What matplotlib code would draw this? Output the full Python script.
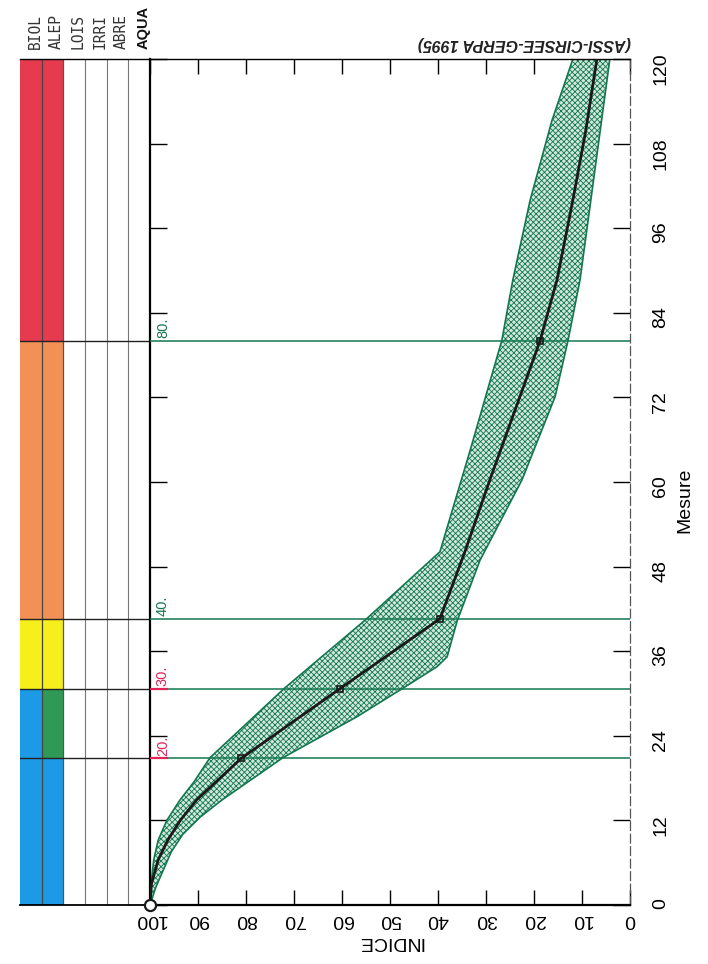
import matplotlib.pyplot as plt
import numpy as np

plt.rcParams['font.family'] = ['Liberation Sans', 'DejaVu Sans']
plt.rcParams['hatch.linewidth'] = 0.6

# reference curve (INDICE vs Mesure)
center_mes = [0, 3, 6.4, 9.2, 12, 14.9, 17.5, 20.8, 30.7, 40.6, 50.1, 60.3, 70.1, 80.0, 88.7, 100, 109.9, 120]
center_idx = [100, 99.7, 98.3, 96.3, 93.7, 90.3, 86.2, 81.0, 60.4, 39.6, 34.4, 29.2, 24.0, 18.75, 15.2, 11.9, 9.2, 6.9]

# envelope
left_mes = [0, 3.5, 6.5, 9.2, 12, 14.9, 17.5, 20.9, 30.8, 40.4, 50.1, 64.5, 80.1, 88.7, 100, 111.3, 120]
left_idx = [100, 99.7, 99.2, 98.3, 96.5, 93.75, 90.8, 87.5, 71.9, 55.2, 39.6, 33.3, 26.7, 24.4, 20.8, 16.25, 11.9]
right_mes = [0, 2.5, 5, 7.5, 10, 12.5, 14.9, 17.5, 20.9, 26.7, 30.5, 33.8, 35.2, 40.3, 48.9, 60.3, 72.1, 80.1, 88.7, 104.3, 120]
right_idx = [100, 98.8, 97.2, 95.6, 93.2, 89.5, 85.0, 79.5, 72.3, 56.9, 47.9, 40.2, 38.1, 36.0, 31.25, 22.5, 15.6, 12.9, 10.4, 7.3, 4.2]

thresholds = [20.8, 30.7, 40.6, 80.0]
threshold_labels = ['20.', '30.', '40.', '80.']
threshold_colors = ['#e0245a', '#e0245a', '#13774f', '#13774f']

zone_bounds = [0, 20.8, 30.7, 40.6, 80.0, 120]
biol_colors = ['#1c9ae6', '#1c9ae6', '#f6ef1c', '#f29055', '#e63a4f']
alep_colors = ['#1c9ae6', '#2f9a55', '#f6ef1c', '#f29055', '#e63a4f']
columns = ['BIOL', 'ALEP', 'LOIS', 'IRRI', 'ABRE', 'AQUA']

indice_ticks = [100, 90, 80, 70, 60, 50, 40, 30, 20, 10, 0]
mesure_ticks = [0, 12, 24, 36, 48, 60, 72, 84, 96, 108, 120]

green = '#13774f'

fig = plt.figure(figsize=(7.08, 9.64), dpi=100)
W, H = 708, 964

# ---- left indicator panel
axl = fig.add_axes([20 / W, 59 / H, 130 / W, 846 / H])
axl.set_xlim(0, 6)
axl.set_ylim(0, 120)
for col, cols in enumerate([biol_colors, alep_colors]):
    for i in range(len(cols)):
        axl.bar(col + 0.5, zone_bounds[i + 1] - zone_bounds[i], bottom=zone_bounds[i],
                width=1, color=cols[i], edgecolor='none')
axl.axvline(1, color='#444', lw=0.9)
axl.axvline(2, color='#555', lw=0.9)
for x in [3, 4, 5]:
    axl.axvline(x, color='#777', lw=0.8)
for t in thresholds:
    axl.axhline(t, color='#222', lw=1.0)
axl.set_xticks([])
axl.set_yticks([])
for s in ['left', 'right']:
    axl.spines[s].set_visible(False)
axl.spines['top'].set_linewidth(1.0)
axl.spines['bottom'].set_linewidth(1.3)
for i, name in enumerate(columns):
    if name == 'AQUA':
        kw = dict(fontfamily='Liberation Sans', fontweight='bold', color='#111')
    else:
        kw = dict(fontfamily='DejaVu Sans Mono', color='#333')
    axl.annotate(name, (i + 0.5, 120), xytext=(3, 7), textcoords='offset points',
                 rotation=90, ha='center', va='bottom', fontsize=10.5, **kw)

# ---- main chart
ax = fig.add_axes([150 / W, 59 / H, 480 / W, 846 / H])
ax.set_xlim(100, 0)
ax.set_ylim(0, 120)

band_x = np.concatenate([left_idx, right_idx[::-1]])
band_y = np.concatenate([left_mes, right_mes[::-1]])
ax.fill(band_x, band_y, facecolor='#d2e8dc', edgecolor=green, hatch='xxxxxx', lw=1.2, zorder=2)

for t, lab, c in zip(thresholds, threshold_labels, threshold_colors):
    ax.axhline(t, color=green, lw=1.1, zorder=3)
    if c != green:
        ax.plot([100, 96.5], [t, t], color=c, lw=1.6, zorder=4)
    ax.text(97.3, t + 0.4, lab, rotation=90, ha='center', va='bottom', color=c, fontsize=10.5)

ax.plot(center_idx, center_mes, color='#1a1a1a', lw=2, zorder=5)
mark_idx = [81.0, 60.4, 39.6, 18.75]
ax.plot(mark_idx, thresholds, 's', mfc='none', mec='#1a1a1a', ms=5, mew=1.2, zorder=6)
ax.plot([100], [0], 'o', mfc='white', mec='#1a1a1a', ms=8, mew=1.6, zorder=6, clip_on=False)

ax.set_xticks(indice_ticks)
ax.set_xticklabels([str(v) for v in indice_ticks])
ax.set_yticks(mesure_ticks)
ax.set_yticklabels([str(v) for v in mesure_ticks])
ax.tick_params(axis='x', direction='in', length=11, width=1, top=True,
               labelrotation=180, labelsize=14, pad=4)
ax.tick_params(axis='y', direction='in', length=12, width=1, left=True, right=True,
               labelleft=False, labelright=True, labelrotation=90, labelsize=14, pad=16)

ax.spines['left'].set_linewidth(1.6)
ax.spines['bottom'].set_linewidth(1.6)
ax.spines['top'].set_linewidth(1.0)
ax.spines['right'].set_linestyle((0, (7, 3)))
ax.spines['right'].set_color('#555')
ax.spines['right'].set_linewidth(0.9)

ax.set_xlabel('INDICE', rotation=180, fontsize=14, labelpad=4)
fig.text(685 / W, 1 - 500 / H, 'Mesure', rotation=90, ha='center', va='center', fontsize=14)

ax.annotate('(ASSI-CIRSEE-GERPA 1995)', (22, 120), xytext=(0, 11), textcoords='offset points',
            rotation=180, ha='center', va='center', fontsize=11.5,
            fontweight='bold', fontstyle='italic', color='#222')

fig.savefig('out.png', dpi=100)
